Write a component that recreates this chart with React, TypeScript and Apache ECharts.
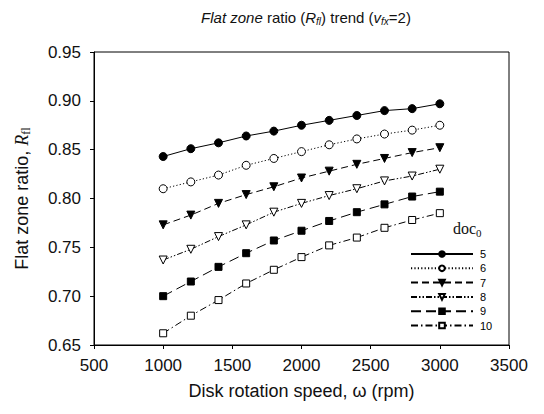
import React, { useEffect, useRef } from 'react';
import * as echarts from 'echarts';

const speeds = [1000, 1200, 1400, 1600, 1800, 2000, 2200, 2400, 2600, 2800, 3000];
const doc5 = [0.843, 0.851, 0.857, 0.864, 0.869, 0.875, 0.880, 0.885, 0.890, 0.892, 0.897];
const doc6 = [0.810, 0.817, 0.824, 0.834, 0.841, 0.848, 0.855, 0.861, 0.866, 0.870, 0.875];
const doc7 = [0.773, 0.783, 0.795, 0.804, 0.812, 0.821, 0.828, 0.835, 0.841, 0.847, 0.852];
const doc8 = [0.737, 0.748, 0.761, 0.773, 0.786, 0.795, 0.803, 0.810, 0.818, 0.823, 0.830];
const doc9 = [0.700, 0.715, 0.730, 0.744, 0.757, 0.767, 0.777, 0.786, 0.794, 0.802, 0.807];
const doc10 = [0.662, 0.680, 0.696, 0.713, 0.727, 0.740, 0.752, 0.760, 0.770, 0.778, 0.785];
const seriesNames = ['5', '6', '7', '8', '9', '10'];
const seriesValues = [doc5, doc6, doc7, doc8, doc9, doc10];

const styles = [
  { symbol: 'circle', fill: '#000', dash: 'solid' as any, rotate: 0 },
  { symbol: 'circle', fill: '#fff', dash: [1.2, 2.2], rotate: 0 },
  { symbol: 'triangle', fill: '#000', dash: [7, 4], rotate: 180 },
  { symbol: 'triangle', fill: '#fff', dash: [6, 2, 1.5, 2, 1.5, 2], rotate: 180 },
  { symbol: 'rect', fill: '#000', dash: [10, 5], rotate: 0 },
  { symbol: 'rect', fill: '#fff', dash: [7, 3, 1.5, 3], rotate: 0 },
];

const SANS = '"Liberation Sans", Arial, sans-serif';
const SERIF = '"Liberation Serif", "Times New Roman", serif';

export default function App() {
  const ref = useRef<HTMLDivElement>(null);
  useEffect(() => {
    document.body.style.margin = '0';
    const chart = echarts.init(ref.current!, null, { renderer: 'svg' });
    const series = seriesNames.map((name, i) => ({
      name,
      type: 'line',
      data: speeds.map((s, j) => [s, seriesValues[i][j]]),
      symbol: styles[i].symbol,
      symbolSize: styles[i].symbol === 'rect' ? 7 : 8,
      symbolRotate: styles[i].rotate,
      showAllSymbol: true,
      lineStyle: { color: '#000', width: 1, type: styles[i].dash },
      itemStyle: { color: styles[i].fill, borderColor: '#000', borderWidth: 1 },
      emphasis: { disabled: true },
    }));
    chart.setOption({
      animation: false,
      backgroundColor: '#fff',
      title: {
        text: '{i|Flat zone} ratio ({i|R}{s|fl}) trend ({i|v}{s|fx}=2)',
        left: 301,
        textAlign: 'center',
        top: 4,
        textStyle: {
          fontFamily: SANS,
          fontSize: 15,
          fontWeight: 'normal',
          color: '#111',
          rich: {
            i: { fontFamily: SANS, fontSize: 15, fontStyle: 'italic', color: '#111' },
            s: { fontFamily: SANS, fontSize: 10, fontStyle: 'italic', color: '#111', padding: [7, 0, 0, 0] },
          },
        },
      },
      grid: { left: 94, right: 35, top: 52, bottom: 69, show: true, borderColor: '#000', borderWidth: 1 },
      legend: {
        orient: 'vertical',
        left: 405,
        top: 242,
        itemWidth: 62,
        itemHeight: 7,
        itemGap: 0.3,
        data: seriesNames,
        textStyle: { fontFamily: SANS, fontSize: 11, lineHeight: 14, color: '#000', padding: [0, 0, 0, 2] },
      },
      graphic: [
        {
          type: 'text',
          x: 453,
          y: 219,
          style: {
            text: '{a|doc}{b|0}',
            rich: {
              a: { fontFamily: SERIF, fontSize: 16, fill: '#111' },
              b: { fontFamily: SERIF, fontSize: 11, fill: '#111', padding: [8, 0, 0, 0] },
            },
          },
        },
      ],
      xAxis: {
        type: 'value',
        min: 500,
        max: 3500,
        interval: 500,
        name: 'Disk rotation speed, ω (rpm)',
        nameLocation: 'middle',
        nameGap: 37,
        nameTextStyle: { fontFamily: SANS, fontSize: 18, color: '#111' },
        axisLine: { lineStyle: { color: '#000', width: 1 } },
        axisTick: { show: true, length: 4, lineStyle: { color: '#000' } },
        axisLabel: { fontFamily: SANS, fontSize: 17, color: '#111', margin: 12, formatter: (v: number) => String(v) },
        splitLine: { show: false },
      },
      yAxis: {
        type: 'value',
        min: 0.65,
        max: 0.95,
        interval: 0.05,
        name: 'Flat zone ratio, {r|R}{s|fl}',
        nameLocation: 'middle',
        nameGap: 62,
        nameTextStyle: {
          fontFamily: SANS,
          fontSize: 18,
          color: '#111',
          rich: {
            r: { fontFamily: SERIF, fontSize: 18, fontStyle: 'italic', color: '#111' },
            s: { fontFamily: SERIF, fontSize: 12, color: '#111', padding: [8, 0, 0, 0] },
          },
        },
        axisLine: { show: true, lineStyle: { color: '#000', width: 1 } },
        axisTick: { show: true, length: 4, lineStyle: { color: '#000' } },
        axisLabel: {
          fontFamily: SANS,
          fontSize: 17,
          color: '#111',
          margin: 13,
          formatter: (v: number) => v.toFixed(2),
        },
        splitLine: { show: false },
      },
      series,
    });
    return () => chart.dispose();
  }, []);
  return <div ref={ref} style={{ width: 544, height: 414 }} />;
}
